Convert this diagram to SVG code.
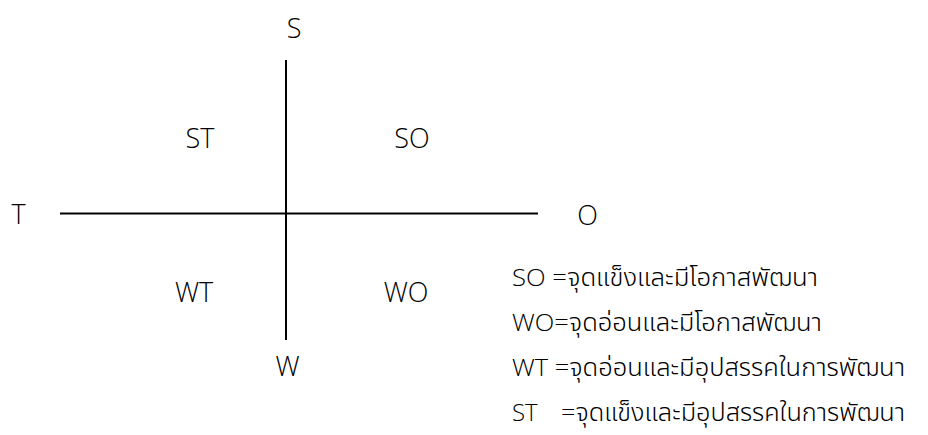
<svg xmlns="http://www.w3.org/2000/svg" width="928" height="435" viewBox="0 0 928 435">
<style>
text{font-family:"Open Sans","Noto Sans","Noto Sans Thai","DejaVu Sans",sans-serif;font-weight:300;fill:#000}
.lb{font-size:27px;text-anchor:middle}
.lg{font-size:24px}
.ax{stroke:#000;stroke-width:2;fill:none}
</style>
<rect width="928" height="435" fill="#fff"/>
<g id="connectors">
<line class="ax" x1="286" y1="60" x2="286" y2="340"/>
<line class="ax" x1="60" y1="213.5" x2="538" y2="213.5"/>
</g>
<g id="S"><text class="lb" x="294" y="38">S</text></g>
<g id="T"><text class="lb" x="18.5" y="224">T</text></g>
<g id="O"><text class="lb" x="587.5" y="225">O</text></g>
<g id="W"><text class="lb" x="287.5" y="376">W</text></g>
<g id="ST"><text class="lb" x="200" y="148">ST</text></g>
<g id="SO"><text class="lb" x="412" y="148">SO</text></g>
<g id="WT"><text class="lb" x="194" y="302">WT</text></g>
<g id="WO"><text class="lb" x="406" y="302">WO</text></g>
<g id="legend">
<text class="lg" x="512" y="286" textLength="306" lengthAdjust="spacingAndGlyphs">SO =จุดแข็งและมีโอกาสพัฒนา</text>
<text class="lg" x="512" y="331" textLength="310" lengthAdjust="spacingAndGlyphs">WO=จุดอ่อนและมีโอกาสพัฒนา</text>
<text class="lg" x="512" y="376" textLength="393" lengthAdjust="spacingAndGlyphs">WT =จุดอ่อนและมีอุปสรรคในการพัฒนา</text>
<text class="lg" y="421"><tspan x="512">ST</tspan><tspan x="561" textLength="344" lengthAdjust="spacingAndGlyphs">=จุดแข็งและมีอุปสรรคในการพัฒนา</tspan></text>
</g>
</svg>
